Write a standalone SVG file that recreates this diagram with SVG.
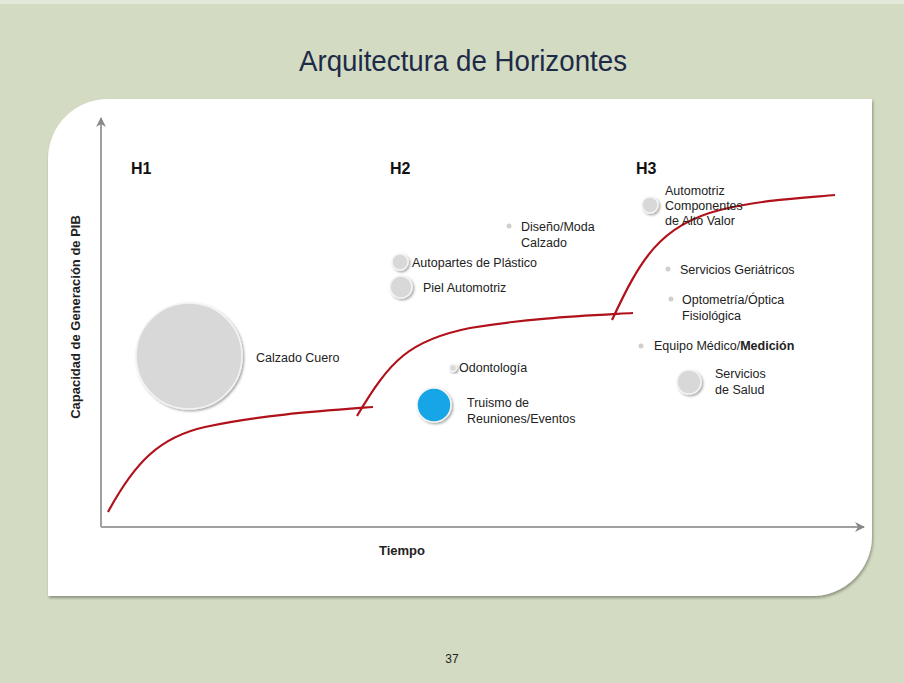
<svg xmlns="http://www.w3.org/2000/svg" width="904" height="683" viewBox="0 0 904 683">
<style>
text{font-family:"Liberation Sans",Arial,sans-serif;fill:#222}
.lbl{font-size:12.5px}
.h{font-size:16px;font-weight:bold;fill:#111}
.ax{stroke:#a0a0a0;stroke-width:2;fill:none}
.curve{stroke:#b0111b;stroke-width:2.2;fill:none}
.bub{fill:#d8d8d8;stroke:#f4f4f4;stroke-width:1.5;filter:url(#sh)}
.dot{fill:#cfcfcf}
</style>
<defs>
<filter id="sh" x="-30%" y="-30%" width="160%" height="160%">
<feDropShadow dx="1.5" dy="1.5" stdDeviation="1.2" flood-color="#000" flood-opacity="0.35"/>
</filter>
<filter id="psh" x="-5%" y="-5%" width="110%" height="110%">
<feDropShadow dx="1" dy="2" stdDeviation="1.5" flood-color="#000" flood-opacity="0.35"/>
</filter>
<marker id="arr" viewBox="0 0 10 10" refX="9" refY="5" markerWidth="5" markerHeight="5" orient="auto">
<path d="M0,0 L10,5 L0,10 L3,5 z" fill="#888"/>
</marker>
</defs>
<rect width="904" height="683" fill="#d3dcc2"/>
<rect width="904" height="4" fill="#e3e9d8"/>
<text x="463" y="71" text-anchor="middle" textLength="328" lengthAdjust="spacingAndGlyphs" style="font-size:29px;fill:#1e2b48">Arquitectura de Horizontes</text>
<path id="panel" d="M108,99 H872 V536 A60,60 0 0 1 812,596 H48 V159 A60,60 0 0 1 108,99 Z" fill="#fff" filter="url(#psh)"/>
<g id="connectors">
<line class="ax" x1="101" y1="527" x2="101" y2="118" marker-end="url(#arr)"/>
<line class="ax" x1="101" y1="527" x2="864" y2="527" marker-end="url(#arr)"/>
<path class="curve" d="M108,512 C135,462 160,437 205,427 C260,415 320,411 373,407"/>
<path class="curve" d="M357,416 C390,360 410,340 470,328 C530,318 580,316 633,313"/>
<path class="curve" d="M612,320 C640,260 660,225 720,210 C760,200 800,198 835,195"/>
</g>
<text x="80" y="317" text-anchor="middle" transform="rotate(-90 80 317)" style="font-weight:bold;font-size:13px">Capacidad de Generación de PIB</text>
<text x="402" y="555" text-anchor="middle" style="font-weight:bold;font-size:13px">Tiempo</text>
<text class="h" x="131" y="174">H1</text>
<text class="h" x="390" y="174">H2</text>
<text class="h" x="636" y="174">H3</text>
<g id="calzado-cuero"><circle class="bub" cx="189" cy="356" r="53"/><text class="lbl" x="256" y="362">Calzado Cuero</text></g>
<g id="diseno"><circle class="dot" cx="509" cy="226" r="2.5"/><text class="lbl" x="521" y="231">Diseño/Moda</text><text class="lbl" x="521" y="247">Calzado</text></g>
<g id="autopartes"><circle class="bub" cx="400" cy="262" r="8"/><text class="lbl" x="412" y="267">Autopartes de Plástico</text></g>
<g id="piel"><circle class="bub" cx="401" cy="287" r="11"/><text class="lbl" x="423" y="292">Piel Automotriz</text></g>
<g id="odontologia"><circle class="bub" cx="453" cy="368" r="3.5"/><text class="lbl" x="459" y="372">Odontología</text></g>
<g id="truismo"><circle cx="434" cy="405" r="17" fill="#15a6e8" stroke="#f4f4f4" stroke-width="1.5" filter="url(#sh)"/><text class="lbl" x="467" y="407">Truismo de</text><text class="lbl" x="467" y="423">Reuniones/Eventos</text></g>
<g id="automotriz"><circle class="bub" cx="650" cy="205" r="8"/><text class="lbl" x="665" y="195">Automotriz</text><text class="lbl" x="665" y="210">Componentes</text><text class="lbl" x="665" y="225">de Alto Valor</text></g>
<g id="geriatricos"><circle class="dot" cx="668" cy="269" r="2.5"/><text class="lbl" x="680" y="274">Servicios Geriátricos</text></g>
<g id="optometria"><circle class="dot" cx="671" cy="299" r="2.5"/><text class="lbl" x="682" y="304">Optometría/Óptica</text><text class="lbl" x="682" y="320">Fisiológica</text></g>
<g id="equipo"><circle class="dot" cx="641" cy="346" r="2.5"/><text class="lbl" x="654" y="350">Equipo Médico/<tspan style="font-weight:bold">Medición</tspan></text></g>
<g id="salud"><circle class="bub" cx="689" cy="382" r="12"/><text class="lbl" x="715" y="378">Servicios</text><text class="lbl" x="715" y="394">de Salud</text></g>
<text x="452" y="663" text-anchor="middle" style="font-size:12px">37</text>
</svg>
